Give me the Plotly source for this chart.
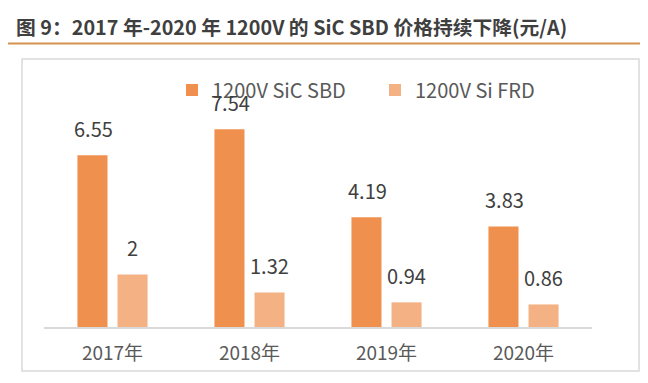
import plotly.graph_objects as go

categories = ["2017年", "2018年", "2019年", "2020年"]
sic_sbd = [6.55, 7.54, 4.19, 3.83]
si_frd = [2, 1.32, 0.94, 0.86]
series_names = ["1200V SiC SBD", "1200V Si FRD"]
title_text = "图 9：2017 年-2020 年 1200V 的 SiC SBD 价格持续下降(元/A)"

C_SIC = "#F0904F"
C_FRD = "#F4B183"

# page body has a default 8px margin; figure is sized to fit the window
OFF = 8
W, H = 640, 375
ML, MR, MT, MB = 36, 56, 83, 56
PW = W - ML - MR
PH = H - MT - MB


def px_x(x):  # x in window pixels
    return (x - OFF - ML) / PW


def px_y(y):  # y in window pixels
    return (H - MB - (y - OFF)) / PH


fig = go.Figure()
fig.add_trace(go.Bar(x=categories, y=sic_sbd, name=series_names[0],
                     marker=dict(color=C_SIC, line=dict(width=0))))
fig.add_trace(go.Bar(x=categories, y=si_frd, name=series_names[1],
                     marker=dict(color=C_FRD, line=dict(width=0))))

ann = []
for i, c in enumerate(categories):
    for vals, shift in ((sic_sbd, -19.5), (si_frd, 19.5)):
        v = vals[i]
        ann.append(dict(x=c, y=v, xref="x", yref="y", text=f"{v:g}",
                        showarrow=False, xshift=shift, yshift=27,
                        yanchor="middle", xanchor="center",
                        font=dict(family="Noto Sans CJK SC", size=20, color="#404040")))

shapes = [
    dict(type="rect", xref="paper", yref="paper",
         x0=px_x(22), x1=px_x(639), y0=px_y(371), y1=px_y(59),
         line=dict(color="#D9D9D9", width=1.5), fillcolor="rgba(0,0,0,0)", layer="below"),
    dict(type="line", xref="paper", yref="paper",
         x0=px_x(0), x1=px_x(648), y0=px_y(43.5), y1=px_y(43.5),
         line=dict(color="#D4914F", width=2)),
]

fig.update_layout(
    width=W, height=H,
    margin=dict(l=ML, r=MR, t=MT, b=MB, pad=0),
    paper_bgcolor="white", plot_bgcolor="white",
    barmode="group", bargap=0.415, bargroupgap=0.25,
    title=dict(text=title_text, x=(16 - OFF) / W, xanchor="left",
               y=1 - (28 - OFF) / H, yanchor="middle",
               xref="container", yref="container",
               font=dict(family="Noto Sans CJK SC", size=19.8, color="#3F3F3F", weight="bold")),
    showlegend=True,
    legend=dict(orientation="h", x=px_x(172), xanchor="left", y=px_y(90), yanchor="middle",
                font=dict(family="Noto Sans CJK SC", size=20, color="#595959"),
                entrywidth=158, entrywidthmode="pixels",
                bgcolor="rgba(0,0,0,0)", itemclick=False),
    xaxis=dict(showline=True, linecolor="#D9D9D9", linewidth=1.5, showgrid=False,
               ticks="", ticklabelstandoff=8,
               tickfont=dict(family="Noto Sans CJK SC", size=19, color="#595959")),
    yaxis=dict(range=[0, 9], visible=False, showgrid=False, zeroline=False),
    annotations=ann,
    shapes=shapes,
)

fig.write_html("out.html")
